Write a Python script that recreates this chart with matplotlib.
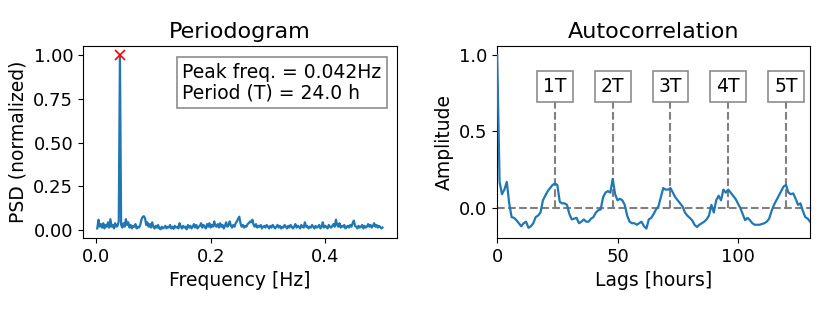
import numpy as np
import matplotlib
matplotlib.use("Agg")
import matplotlib.pyplot as plt

# ---------------- data ----------------
# periodogram: frequency index k (freq = k / n_samples), normalized PSD
n_samples = 480
psd_values = [
    0.01, 0.06, 0.02, 0.035, 0.015, 0.04, 0.01, 0.03, 0.02, 0.045, 0.015, 0.063, 0.02, 0.03, 0.01, 0.04, 0.02, 0.025, 0.05, 1.00,
    0.03, 0.015, 0.04, 0.02, 0.063, 0.03, 0.045, 0.015, 0.03, 0.01, 0.025, 0.02, 0.035, 0.01, 0.02, 0.015, 0.03, 0.06, 0.075, 0.08,
    0.07, 0.03, 0.045, 0.02, 0.035, 0.015, 0.045, 0.02, 0.01, 0.025, 0.015, 0.03, 0.01, 0.005, 0.02, 0.01, 0.015, 0.025, 0.01, 0.02,
    0.015, 0.03, 0.01, 0.02, 0.008, 0.025, 0.015, 0.02, 0.01, 0.04, 0.02, 0.01, 0.025, 0.015, 0.02, 0.005, 0.03, 0.015, 0.025, 0.01,
    0.02, 0.035, 0.015, 0.03, 0.01, 0.02, 0.025, 0.04, 0.015, 0.03, 0.02, 0.01, 0.035, 0.02, 0.04, 0.015, 0.03, 0.02, 0.05, 0.025,
    0.02, 0.035, 0.015, 0.04, 0.02, 0.03, 0.01, 0.025, 0.045, 0.02, 0.03, 0.05, 0.025, 0.015, 0.03, 0.02, 0.04, 0.05, 0.065, 0.077,
    0.04, 0.02, 0.03, 0.015, 0.025, 0.02, 0.035, 0.04, 0.05, 0.045, 0.06, 0.03, 0.02, 0.035, 0.015, 0.025, 0.02, 0.03, 0.01, 0.02,
    0.025, 0.015, 0.03, 0.02, 0.01, 0.025, 0.015, 0.03, 0.02, 0.01, 0.02, 0.03, 0.015, 0.025, 0.01, 0.02, 0.015, 0.03, 0.02, 0.01,
    0.025, 0.015, 0.03, 0.02, 0.01, 0.02, 0.035, 0.015, 0.025, 0.02, 0.01, 0.03, 0.02, 0.015, 0.045, 0.02, 0.025, 0.01, 0.02, 0.015,
    0.03, 0.02, 0.01, 0.025, 0.015, 0.02, 0.03, 0.01, 0.02, 0.045, 0.015, 0.025, 0.02, 0.01, 0.03, 0.02, 0.015, 0.025, 0.035, 0.02,
    0.06, 0.03, 0.02, 0.04, 0.015, 0.025, 0.02, 0.03, 0.01, 0.02, 0.025, 0.015, 0.03, 0.02, 0.04, 0.055, 0.025, 0.02, 0.01, 0.025,
    0.015, 0.02, 0.03, 0.01, 0.025, 0.015, 0.02, 0.035, 0.02, 0.03, 0.015, 0.025, 0.04, 0.02, 0.03, 0.015, 0.025, 0.02, 0.01, 0.015,
]
peak_freq = 1 / 24
peak_psd = 1.0
info_text = "Peak freq. = 0.042Hz\nPeriod (T) = 24.0 h"

# autocorrelation, lag 0..130 hours
acf_values = [
    1.00, 0.17, 0.09, 0.12, 0.17, 0.03, -0.06, -0.065, -0.08, -0.10,
    -0.12, -0.10, -0.09, -0.13, -0.12, -0.10, -0.06, -0.05, -0.03, 0.05,
    0.08, 0.11, 0.13, 0.15, 0.16, 0.15, 0.04, 0.03, 0.03, 0.02,
    -0.04, -0.075, -0.07, -0.065, -0.10, -0.09, -0.075, -0.09, -0.09, -0.07,
    -0.06, -0.03, -0.015, -0.01, 0.07, 0.10, 0.11, 0.10, 0.19, 0.09,
    0.05, 0.06, 0.05, 0.02, -0.05, -0.09, -0.10, -0.10, -0.11, -0.10,
    -0.09, -0.12, -0.135, -0.075, -0.065, -0.04, -0.01, 0.01, 0.07, 0.13,
    0.12, 0.12, 0.13, 0.10, 0.07, 0.05, 0.03, 0.01, -0.03, -0.05,
    -0.065, -0.08, -0.11, -0.125, -0.11, -0.10, -0.09, -0.075, -0.05, 0.02,
    -0.03, 0.05, 0.08, 0.05, 0.12, 0.10, 0.12, 0.10, 0.08, 0.06,
    0.03, 0.00, -0.04, -0.08, -0.065, -0.08, -0.10, -0.11, -0.11, -0.11,
    -0.105, -0.10, -0.09, -0.07, -0.02, 0.02, 0.05, 0.08, 0.11, 0.14,
    0.15, 0.10, 0.09, 0.095, 0.06, 0.02, 0.03, -0.02, -0.06, -0.07,
    -0.09,
]
period_labels = ["1T", "2T", "3T", "4T", "5T"]
period_lags = [24, 48, 72, 96, 120]

# ---------------- plot ----------------
plt.rcParams["font.family"] = ["DejaVu Sans"]
plt.rcParams["font.size"] = 13.5
plt.rcParams["xtick.labelsize"] = 13
plt.rcParams["ytick.labelsize"] = 13

fig = plt.figure(figsize=(8.3, 3.12), dpi=100)
ax1 = fig.add_axes([0.100, 0.237, 0.378, 0.615])
ax2 = fig.add_axes([0.599, 0.237, 0.377, 0.615])

freqs = np.arange(1, len(psd_values) + 1) / n_samples
ax1.plot(freqs, psd_values, color="#1f77b4", lw=1.6)
ax1.plot([peak_freq], [peak_psd], "x", color="red", ms=7, mew=1.2)
ax1.set_title("Periodogram", fontsize=16)
ax1.set_xlabel("Frequency [Hz]")
ax1.set_ylabel("PSD (normalized)")
ax1.set_xticks([0.0, 0.2, 0.4])
ax1.set_yticks([0.0, 0.25, 0.5, 0.75, 1.0])
ax1.set_yticklabels(["0.00", "0.25", "0.50", "0.75", "1.00"])
ax1.text(0.317, 0.914, info_text, transform=ax1.transAxes, ha="left", va="top",
         fontsize=13.5, linespacing=1.1,
         bbox=dict(facecolor="white", edgecolor="#8c8c8c", lw=1.2, pad=4))

lags = np.arange(len(acf_values))
ax2.plot(lags, acf_values, color="#1f77b4", lw=1.6, zorder=3)
ax2.axhline(0, color="gray", ls="--", lw=1.5, zorder=2)
ax2.vlines(period_lags, 0, 0.72, colors="gray", linestyles="--", lw=1.5, zorder=2)
for lab, lg in zip(period_labels, period_lags):
    ax2.text(lg, 0.795, lab, ha="center", va="center", fontsize=13.5, zorder=4,
             bbox=dict(facecolor="white", edgecolor="#8c8c8c", lw=1.2, pad=4.5))
ax2.set_xlim(0, 130)
ax2.set_ylim(-0.197, 1.058)
ax2.set_xticks([0, 50, 100])
ax2.set_yticks([0.0, 0.5, 1.0])
ax2.set_title("Autocorrelation", fontsize=16)
ax2.set_xlabel("Lags [hours]")
ax2.set_ylabel("Amplitude")

fig.savefig("out.png", dpi=100)
